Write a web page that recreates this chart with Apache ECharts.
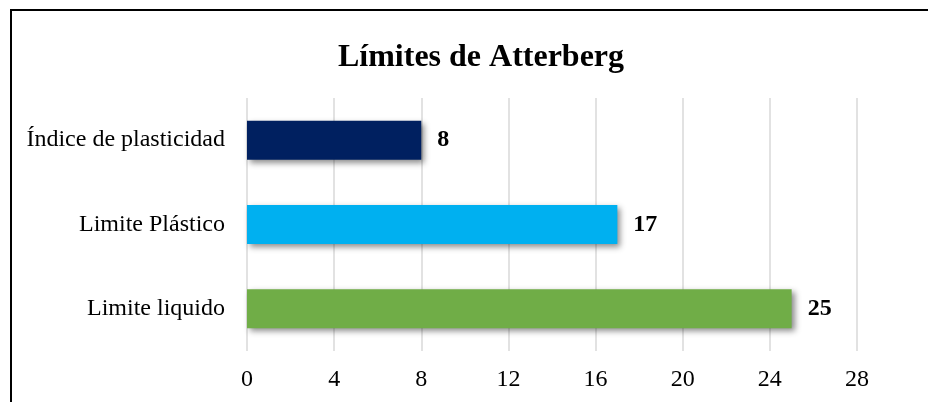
<!DOCTYPE html>
<html>
<head>
<meta charset="utf-8">
<script src="https://cdn.jsdelivr.net/npm/echarts@6/dist/echarts.min.js"></script>
<style>
html,body{margin:0;padding:0;background:#fff;}
#chart{width:928px;height:402px;}
</style>
</head>
<body>
<div id="chart"></div>
<script>
const titleText = 'Límites de Atterberg';
const categories = ['Limite liquido', 'Limite Plástico', 'Índice de plasticidad'];
const values = [25, 17, 8];
const barColors = ['#70AD47', '#00B0F0', '#002060'];
const axisMin = 0;
const axisMax = 28;
const axisStep = 4;

const FONT = "'Liberation Serif', 'Times New Roman', serif";
const chart = echarts.init(document.getElementById('chart'), null, {renderer: 'canvas'});
chart.setOption({
  animation: false,
  backgroundColor: '#ffffff',
  graphic: [{
    type: 'rect',
    shape: {x: 11, y: 10, width: 1200, height: 1000},
    style: {fill: 'none', stroke: '#000', lineWidth: 2},
    silent: true
  }],
  title: {
    text: titleText,
    left: 476,
    top: 37,
    textAlign: 'center',
    textStyle: {fontFamily: FONT, fontSize: 32, fontWeight: 'bold', color: '#000', lineHeight: 32}
  },
  grid: {left: 247, right: 71, top: 98, bottom: 51, containLabel: false},
  xAxis: {
    type: 'value',
    min: axisMin,
    max: axisMax,
    interval: axisStep,
    axisLine: {show: false},
    axisTick: {show: false},
    splitLine: {show: true, lineStyle: {color: '#d9d9d9', width: 1.5}},
    axisLabel: {fontFamily: FONT, fontSize: 24, color: '#000', margin: 17, lineHeight: 24}
  },
  yAxis: {
    type: 'category',
    data: categories,
    axisLine: {show: false},
    axisTick: {show: false},
    splitLine: {show: false},
    axisLabel: {fontFamily: FONT, fontSize: 24, color: '#000', margin: 22}
  },
  series: [{
    type: 'bar',
    data: values.map((v, i) => ({value: v, itemStyle: {color: barColors[i]}})),
    barWidth: 39,
    itemStyle: {
      shadowColor: 'rgba(0,0,0,0.45)',
      shadowBlur: 6,
      shadowOffsetX: 3,
      shadowOffsetY: 3
    },
    label: {
      show: true,
      position: 'right',
      distance: 16,
      fontFamily: FONT,
      fontSize: 24,
      fontWeight: 'bold',
      color: '#000'
    }
  }]
});
</script>
</body>
</html>
